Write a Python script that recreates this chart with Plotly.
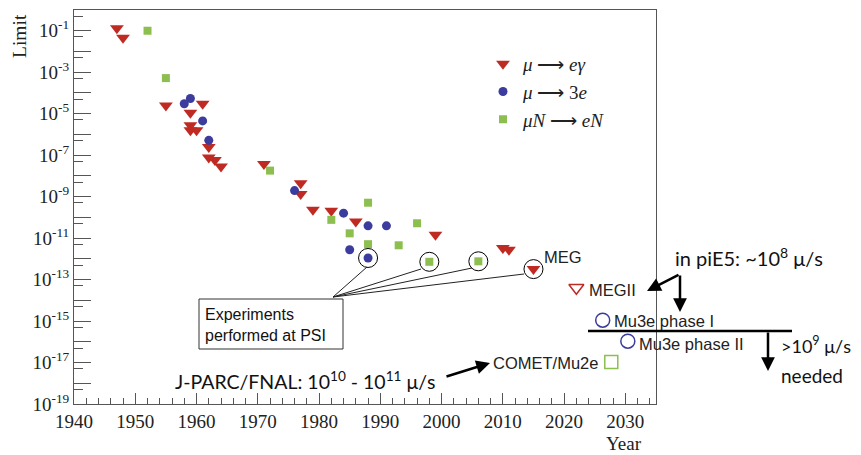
import plotly.graph_objects as go

# ---------------- data ----------------
meg_years = [1947, 1948, 1955, 1959, 1961, 1959, 1959, 1960, 1962, 1962, 1963, 1964,
             1971, 1977, 1977, 1979, 1982, 1986, 1999, 2010, 2011, 2015]
meg_limits = [1.3e-1, 4.6e-2, 2.5e-5, 1.1e-5, 3.0e-5, 2.8e-6, 1.6e-6, 1.6e-6, 2.5e-7, 7.8e-8,
              5.8e-8, 2.8e-8, 3.7e-8, 4.4e-9, 1.35e-9, 2.3e-10, 2.1e-10, 6.3e-11, 1.45e-11,
              3.3e-12, 2.75e-12, 3.2e-13]

m3e_years = [1958, 1959, 1961, 1962, 1976, 1984, 1988, 1991, 1985, 1988]
m3e_limits = [3.0e-5, 5.4e-5, 4.5e-6, 5.2e-7, 1.95e-9, 1.6e-10, 3.9e-11, 3.9e-11, 2.75e-12, 1.1e-12]

conv_years = [1952, 1955, 1972, 1982, 1988, 1985, 1996, 1988, 1993, 1998, 2006]
conv_limits = [1e-1, 5.2e-4, 1.8e-8, 7.6e-11, 5.1e-10, 1.7e-11, 5.2e-11, 5.1e-12, 4.5e-12,
               7.2e-13, 7.6e-13]

psi_years = [1988, 1998, 2006, 2015]
psi_limits = [1.1e-12, 7.2e-13, 7.6e-13, 3.2e-13]

megii_year, megii_limit = [2022], [4e-14]
mu3e_years, mu3e_limits = [2026.3, 2030.4], [1.1e-15, 1.07e-16]
comet_year, comet_limit = [2027.7], [1.07e-17]

x_ticks = [1940, 1950, 1960, 1970, 1980, 1990, 2000, 2010, 2020, 2030]
y_exps = list(range(0, -20, -1))

RED = "#bf2a22"
BLUE = "#3c3c9e"
GREEN = "#8cbf4f"
SERIF = "Liberation Serif"
SANS = "Liberation Sans"
BIG = "Lato"

fig = go.Figure()
fig.add_trace(go.Scatter(x=meg_years, y=meg_limits, mode="markers",
                         name="<i>μ</i> ⟶ <i>eγ</i>",
                         marker=dict(symbol="triangle-down", size=12, color=RED)))
fig.add_trace(go.Scatter(x=m3e_years, y=m3e_limits, mode="markers",
                         name="<i>μ</i> ⟶ 3<i>e</i>",
                         marker=dict(symbol="circle", size=9, color=BLUE)))
fig.add_trace(go.Scatter(x=conv_years, y=conv_limits, mode="markers",
                         name="<i>μN</i> ⟶ <i>eN</i>",
                         marker=dict(symbol="square", size=8, color=GREEN)))
fig.add_trace(go.Scatter(x=psi_years, y=psi_limits, mode="markers", showlegend=False,
                         marker=dict(symbol="circle-open", size=19, color="black",
                                     line=dict(width=1, color="black"))))
fig.add_trace(go.Scatter(x=megii_year, y=megii_limit, mode="markers", showlegend=False,
                         marker=dict(symbol="triangle-down-open", size=13, color=RED,
                                     line=dict(width=1.5, color=RED))))
fig.add_trace(go.Scatter(x=mu3e_years, y=mu3e_limits, mode="markers", showlegend=False,
                         marker=dict(symbol="circle-open", size=14, color=BLUE,
                                     line=dict(width=1.5, color=BLUE))))
fig.add_trace(go.Scatter(x=comet_year, y=comet_limit, mode="markers", showlegend=False,
                         marker=dict(symbol="square-open", size=13, color=GREEN,
                                     line=dict(width=1.5, color=GREEN))))

# ------------- layout helpers (page pixel -> paper) -------------
OFF = 8  # default body margin of the html page
W, H = 861 - OFF, 455 - OFF
L, T = 74 - OFF, 10 - OFF
R = 861 - 656
B = 455 - 404
PW, PH = W - L - R, H - T - B


def px(x):
    return (x - OFF - L) / PW


def py(y):
    return 1 - (y - OFF - T) / PH


ytext = []
for e in y_exps:
    if e == 0:
        ytext.append("1")
    elif e % 2 != 0:
        ytext.append("10<sup>%d</sup>" % e)
    else:
        ytext.append("")

minor_x = [v for v in range(1942, 2035, 2) if v % 10 != 0]
minor_y = [5 * 10.0 ** e for e in range(-19, 0)]

fig.update_layout(
    width=W, height=H,
    margin=dict(l=L, r=R, t=T, b=B),
    plot_bgcolor="white", paper_bgcolor="white",
    font=dict(family=SERIF, size=19, color="#222"),
    legend=dict(x=px(483), y=py(45), xanchor="left", yanchor="top",
                bgcolor="rgba(0,0,0,0)", font=dict(family=SERIF, size=19, color="#222"),
                tracegroupgap=0),
    xaxis=dict(range=[1940, 2035], showgrid=False, zeroline=False,
               showline=True, linecolor="#555", linewidth=1, mirror=True,
               ticks="inside", ticklen=11, tickcolor="#555",
               tickvals=x_ticks, ticktext=[str(v) for v in x_ticks],
               tickfont=dict(family=SERIF, size=19, color="#222"),
               minor=dict(tickmode="array", tickvals=minor_x, ticks="inside", ticklen=6,
                          tickcolor="#555")),
    yaxis=dict(type="log", range=[-19, 0], showgrid=False, zeroline=False,
               showline=True, linecolor="#555", linewidth=1, mirror=True,
               ticks="inside", ticklen=17, tickcolor="#555",
               tickvals=[10.0 ** e for e in y_exps], ticktext=ytext,
               tickfont=dict(family=SERIF, size=19, color="#222"),
               minor=dict(tickmode="array", tickvals=minor_y, ticks="inside", ticklen=9,
                          tickcolor="#555")),
)

ann = []
# axis titles
ann.append(dict(x=px(20), y=py(36), xref="paper", yref="paper", text="Limit", textangle=-90,
                xanchor="center", yanchor="middle",
                showarrow=False, font=dict(family=SERIF, size=19.5, color="#222")))
ann.append(dict(x=px(624), y=py(443), xref="paper", yref="paper", text="Year",
                xanchor="center", yanchor="middle",
                showarrow=False, font=dict(family=SERIF, size=19, color="#222")))

small = dict(family=SANS, size=16.5, color="#222")
for txt, x0, y0 in [("MEG", 542, 257), ("MEGII", 587, 290), ("Mu3e phase I", 612, 321),
                    ("Mu3e phase II", 637, 344), ("COMET/Mu2e", 491, 363)]:
    ann.append(dict(x=px(x0), y=py(y0), xref="paper", yref="paper", text=txt,
                    xanchor="left", yanchor="middle", showarrow=False, font=small))

ann.append(dict(x=px(203), y=py(325), xref="paper", yref="paper",
                text="Experiments<br>performed at PSI", align="left",
                xanchor="left", yanchor="middle", showarrow=False,
                font=dict(family=SANS, size=16, color="#111")))

big = dict(family=BIG, size=20, color="#111")
ann.append(dict(x=px(673), y=py(257), xref="paper", yref="paper",
                text="in piE5: ~10<sup>8</sup> μ/s", xanchor="left", yanchor="middle",
                showarrow=False, font=big))
ann.append(dict(x=px(173), y=py(380), xref="paper", yref="paper",
                text="J-PARC/FNAL: 10<sup>10</sup> - 10<sup>11</sup> μ/s", xanchor="left",
                yanchor="middle", showarrow=False, font=dict(family=BIG, size=19.5, color="#111")))
ann.append(dict(x=px(779), y=py(345), xref="paper", yref="paper",
                text="&gt;10<sup>9</sup> μ/s", xanchor="left", yanchor="middle",
                showarrow=False, font=dict(family=BIG, size=18, color="#111")))
ann.append(dict(x=px(779), y=py(375), xref="paper", yref="paper",
                text="needed", xanchor="left", yanchor="middle",
                showarrow=False, font=dict(family=BIG, size=19, color="#111")))

# arrows (head position, tail offset in px)
for hx, hy, ax, ay in [(490, 363, -45, 14), (647, 291, 33, -17), (680, 312, 0, -38),
                       (768, 371, 0, -40)]:
    ann.append(dict(x=px(hx), y=py(hy), xref="paper", yref="paper", text="",
                    showarrow=True, arrowhead=2, arrowsize=1.1, arrowwidth=2.5,
                    arrowcolor="black", ax=ax, ay=ay))

fig.update_layout(annotations=ann)

shapes = []
shapes.append(dict(type="rect", xref="paper", yref="paper", x0=px(199), x1=px(343),
                   y0=py(349), y1=py(299), line=dict(color="#333", width=1),
                   fillcolor="white", layer="above"))
for ex, ey in [(367, 267), (421, 269), (472, 268), (524, 274)]:
    shapes.append(dict(type="line", xref="paper", yref="paper", x0=px(333), y0=py(297),
                       x1=px(ex), y1=py(ey), line=dict(color="#222", width=1)))
shapes.append(dict(type="line", xref="paper", yref="paper", x0=px(588), y0=py(331),
                   x1=px(792), y1=py(331), line=dict(color="black", width=2.5)))
fig.update_layout(shapes=shapes)

fig.write_html("out.html")
